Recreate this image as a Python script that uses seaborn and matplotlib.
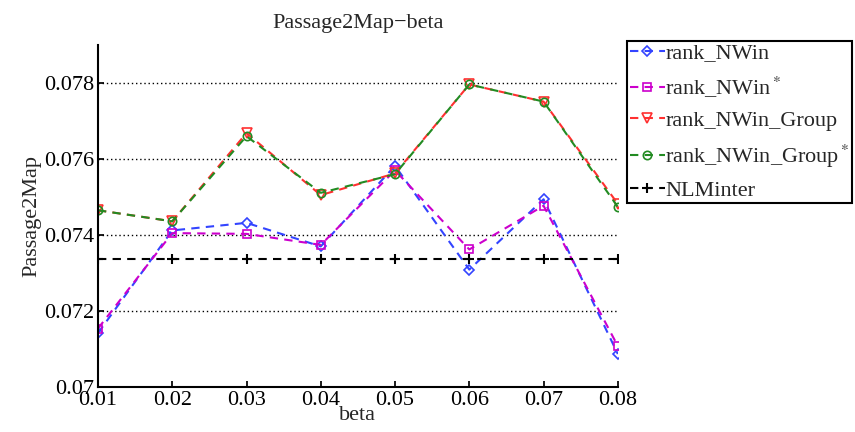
import pandas as pd
import seaborn as sns
import matplotlib
matplotlib.use('Agg')
import matplotlib.pyplot as plt

beta = [0.01, 0.02, 0.03, 0.04, 0.05, 0.06, 0.07, 0.08]
rank_nwin = [0.07142, 0.07412, 0.07432, 0.07370, 0.07582, 0.07309, 0.07494, 0.07087]
rank_nwin_star = [0.07154, 0.07405, 0.07403, 0.07374, 0.07570, 0.07362, 0.07477, 0.07108]
rank_group = [0.07465, 0.07436, 0.07668, 0.07505, 0.07562, 0.07796, 0.07751, 0.07482]
rank_group_star = [0.07465, 0.07436, 0.07660, 0.07511, 0.07560, 0.07796, 0.07751, 0.07474]
nlminter = [0.07336] * 8

series = [
    ('rank_NWin', rank_nwin, '#3344ff', 'D', 5, 'none'),
    ('rank_NWin$^*$', rank_nwin_star, '#cc00cc', 's', 6, 'none'),
    ('rank_NWin_Group', rank_group, '#ff3030', 'v', 7, 'none'),
    ('rank_NWin_Group$^*$', rank_group_star, '#228b22', 'o', 6, 'none'),
    ('NLMinter', nlminter, 'black', '+', 7, 'black'),
]

sns.set_theme(style='white')
plt.rcParams['font.family'] = ['Liberation Serif', 'DejaVu Serif']
plt.rcParams['mathtext.fontset'] = 'stix'

fig = plt.figure(figsize=(8.55, 4.32), dpi=100)
ax = fig.add_axes([0.1146, 0.104, 0.608, 0.792])

for name, values, color, marker, ms, fc in series:
    df = pd.DataFrame({'beta': beta, 'value': values})
    sns.lineplot(
        x='beta', y='value', data=df, ax=ax, label=name,
        color=color, marker=marker, markersize=ms,
        markerfacecolor=fc, markeredgecolor=color,
        markeredgewidth=1.5 if marker == '+' else 1.2,
        linestyle=(0, (4, 3)), linewidth=1.5,
    )

ax.set_xlim(0.01, 0.08)
ax.set_ylim(0.07, 0.079)
ax.set_xticks(beta)
ax.set_xticklabels(['0.01', '0.02', '0.03', '0.04', '0.05', '0.06', '0.07', '0.08'])
ax.set_yticks([0.07, 0.072, 0.074, 0.076, 0.078])
ax.set_yticklabels(['0.07', '0.072', '0.074', '0.076', '0.078'])
ax.tick_params(direction='in', length=4, labelsize=16, colors='black',
               left=True, bottom=True, pad=3)

for y in [0.072, 0.074, 0.076, 0.078]:
    ax.axhline(y, color='black', linestyle=(0, (1, 2)), linewidth=1.0, zorder=0)

sns.despine(ax=ax)
ax.spines['left'].set_color('black')
ax.spines['bottom'].set_color('black')
ax.spines['left'].set_linewidth(1.5)
ax.spines['bottom'].set_linewidth(1.5)

ax.set_xlabel('beta', fontsize=16, labelpad=-3)
ax.set_ylabel('Passage2Map', fontsize=16, labelpad=2)
ax.set_title('Passage2Map\u2212beta', fontsize=16, pad=12)

leg = ax.legend(loc='upper left', bbox_to_anchor=(0.997, 1.045), fontsize=16,
                frameon=True, fancybox=False, framealpha=1, handlelength=1.6,
                handletextpad=0.0, labelspacing=0.5, borderpad=0.1)
leg.get_frame().set_edgecolor('black')
leg.get_frame().set_linewidth(1.5)

fig.savefig('out.png', dpi=100)
